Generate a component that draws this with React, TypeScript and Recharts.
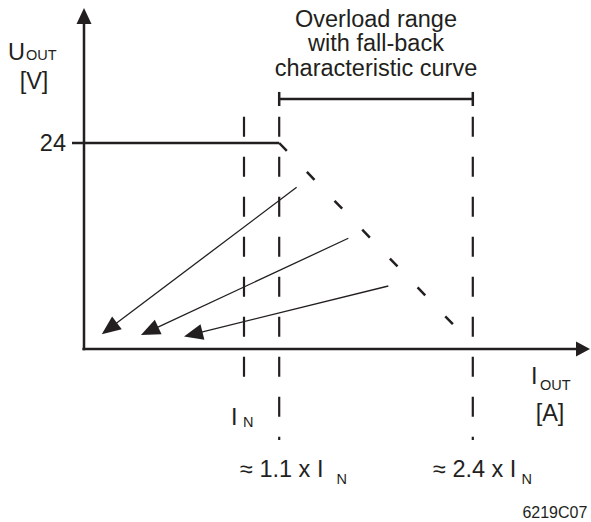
import { ComposedChart, Line, XAxis, YAxis, ReferenceLine, ReferenceDot } from "recharts";

const INK = "#231f20";
const FONT = "'Liberation Sans', Arial, Helvetica, sans-serif";

const X_MAX = 3.1625;
const Y_MAX = 39.73;

// output current, in plot units (I_N at 1.0)
const I_N = 1.0;
const I_KNEE = 1.22; // ≈ 1.1 x I_N
const I_END = 2.43; // ≈ 2.4 x I_N

const U_NOMINAL = 24;
const voltageTicks = [24];

// characteristic: constant voltage, then fall-back
const constantPart = [
  { x: 0, y: U_NOMINAL },
  { x: I_KNEE, y: U_NOMINAL },
];
const fallbackPart = [
  { x: I_KNEE, y: U_NOMINAL },
  { x: 2.31, y: 2.8 },
];

// vertical markers: [x, top, bottom]
const markers: [number, number, number][] = [
  [I_N, 27.07, -3.23],
  [I_KNEE, 27.07, -10.6],
  [I_END, 27.07, -10.6],
];

// overload bracket
const bracketY = 29.13;
const bracketTick = 0.82;

// arrows from the fall-back curve towards short-circuit: [fromX, fromY, toX, toY]
const arrows: [number, number, number, number][] = [
  [1.329, 18.84, 0.111, 1.71],
  [1.652, 12.9, 0.356, 1.63],
  [1.902, 7.34, 0.625, 1.46],
];

const titleLines = ["Overload range", "with fall-back", "characteristic curve"];

const arrowShape = (len: number, half: number, width: number) => (p: any) => {
  const { x1, y1, x2, y2 } = p;
  const dx = x2 - x1;
  const dy = y2 - y1;
  const d = Math.hypot(dx, dy) || 1;
  const ux = dx / d;
  const uy = dy / d;
  const bx = x2 - ux * len;
  const by = y2 - uy * len;
  const pts = `${x2},${y2} ${bx - uy * half},${by + ux * half} ${bx + uy * half},${by - ux * half}`;
  return (
    <g>
      <line x1={x1} y1={y1} x2={bx + ux * 2} y2={by + uy * 2} stroke={INK} strokeWidth={width} />
      <polygon points={pts} fill={INK} />
    </g>
  );
};

const textStyle = { fontFamily: FONT, fill: INK };

function note(x: number, y: number, render: (cx: number, cy: number) => any, key: string) {
  return (
    <ReferenceDot
      key={key}
      x={x}
      y={y}
      r={0}
      ifOverflow="visible"
      shape={(p: any) => render(p.cx, p.cy)}
    />
  );
}

export default function App() {
  return (
    <div style={{ width: 591, height: 522, background: "#fff" }}>
      <style>{"body{margin:0}"}</style>
      <ComposedChart
        width={591}
        height={522}
        margin={{ top: 8, right: 1, left: 0, bottom: 173 }}
      >
        <XAxis type="number" dataKey="x" domain={[0, X_MAX]} hide />
        <YAxis
          type="number"
          domain={[0, Y_MAX]}
          width={84}
          ticks={voltageTicks}
          axisLine={false}
          tickSize={12}
          tickMargin={6}
          tickLine={{ stroke: INK, strokeWidth: 2.5 }}
          tick={{ fill: INK, fontSize: 23.5, fontFamily: FONT }}
        />

        {/* axes with arrow heads */}
        <ReferenceLine
          segment={[{ x: 0, y: -0.15 }, { x: 0, y: Y_MAX }]}
          ifOverflow="visible"
          shape={arrowShape(16, 7.5, 2.5)}
        />
        <ReferenceLine
          segment={[{ x: -0.01, y: 0 }, { x: X_MAX, y: 0 }]}
          ifOverflow="visible"
          shape={arrowShape(14, 7.5, 2.5)}
        />

        {/* vertical dashed markers */}
        {markers.map(([x, top, bottom], i) => (
          <ReferenceLine
            key={"m" + i}
            segment={[{ x, y: top }, { x, y: bottom }]}
            ifOverflow="visible"
            stroke={INK}
            strokeWidth={2.2}
            strokeDasharray="20 20"
          />
        ))}

        {/* overload bracket */}
        <ReferenceLine
          segment={[{ x: I_KNEE, y: bracketY }, { x: I_END, y: bracketY }]}
          stroke={INK}
          strokeWidth={2.5}
        />
        {[I_KNEE, I_END].map((x, i) => (
          <ReferenceLine
            key={"b" + i}
            segment={[{ x, y: bracketY - bracketTick }, { x, y: bracketY + bracketTick }]}
            stroke={INK}
            strokeWidth={2.5}
          />
        ))}

        <Line
          data={constantPart}
          dataKey="y"
          stroke={INK}
          strokeWidth={2.5}
          dot={false}
          isAnimationActive={false}
        />
        <Line
          data={fallbackPart}
          dataKey="y"
          stroke={INK}
          strokeWidth={2.5}
          strokeDasharray="11 29"
          dot={false}
          isAnimationActive={false}
        />

        {arrows.map(([x1, y1, x2, y2], i) => (
          <ReferenceLine
            key={"a" + i}
            segment={[{ x: x1, y: y1 }, { x: x2, y: y2 }]}
            ifOverflow="visible"
            shape={arrowShape(19, 8, 1.3)}
          />
        ))}

        {/* annotations */}
        {note(1.825, 37.52, (cx, cy) => (
          <text x={cx} y={cy} textAnchor="middle" fontSize={23.5} {...textStyle}>
            {titleLines.map((t, i) => (
              <tspan key={i} x={cx} dy={i === 0 ? 0 : 24.5}>
                {t}
              </tspan>
            ))}
          </text>
        ), "title")}

        {note(-0.475, 33.67, (cx, cy) => (
          <text x={cx} y={cy} fontSize={23.5} {...textStyle}>
            U<tspan fontSize={14.5} dx={1}>OUT</tspan>
          </text>
        ), "uout")}
        {note(-0.3125, 30.29, (cx, cy) => (
          <text x={cx} y={cy} textAnchor="middle" fontSize={23.5} {...textStyle}>
            [V]
          </text>
        ), "uunit")}

        {note(2.794, -4.08, (cx, cy) => (
          <text x={cx} y={cy} fontSize={23.5} {...textStyle}>
            I<tspan fontSize={14.5} dx={2.5} dy={6}>OUT</tspan>
          </text>
        ), "iout")}
        {note(2.9125, -8.39, (cx, cy) => (
          <text x={cx} y={cy} textAnchor="middle" fontSize={23.5} {...textStyle}>
            [A]
          </text>
        ), "iunit")}

        {note(0.919, -8.85, (cx, cy) => (
          <text x={cx} y={cy} fontSize={23.5} {...textStyle}>
            I<tspan fontSize={14.5} dx={5.5} dy={2}>N</tspan>
          </text>
        ), "in")}
        {note(0.975, -14.91, (cx, cy) => (
          <text x={cx} y={cy} fontSize={23.5} {...textStyle}>
            ≈ 1.1 x I<tspan fontSize={14.5} dx={13} dy={7}>N</tspan>
          </text>
        ), "knee")}
        {note(2.181, -14.91, (cx, cy) => (
          <text x={cx} y={cy} fontSize={23.5} {...textStyle}>
            ≈ 2.4 x I<tspan fontSize={14.5} dx={5} dy={7}>N</tspan>
          </text>
        ), "end")}

        {note(2.74, -19.69, (cx, cy) => (
          <text x={cx} y={cy} fontSize={16} {...textStyle}>
            6219C07
          </text>
        ), "code")}
      </ComposedChart>
    </div>
  );
}
